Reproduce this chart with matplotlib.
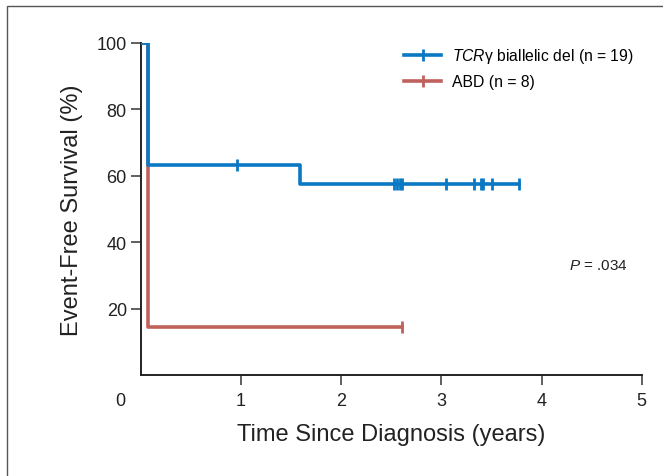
import numpy as np
import matplotlib
matplotlib.use('Agg')
import matplotlib.pyplot as plt
from matplotlib.lines import Line2D
from matplotlib.patches import Rectangle

plt.rcParams['font.family'] = ['Liberation Sans', 'DejaVu Sans']
plt.rcParams['mathtext.fontset'] = 'custom'
plt.rcParams['mathtext.it'] = 'Liberation Sans:italic'
plt.rcParams['mathtext.rm'] = 'Liberation Sans'

# Kaplan-Meier steps
tcr_t = [0, 0.07, 1.585, 3.78]
tcr_s = [100, 63.2, 57.4, 57.4]
tcr_cens = [0.96, 2.53, 2.56, 2.59, 2.61, 3.05, 3.33, 3.40, 3.42, 3.51, 3.78]

abd_t = [0, 0.07, 2.61]
abd_s = [100, 14.3, 14.3]
abd_cens = [2.61]

x_ticks = [1, 2, 3, 4, 5]
y_ticks = [20, 40, 60, 80, 100]

BLUE = '#0a78c2'
RED = '#bf625c'
INK = '#222222'


def surv_at(times, surv, pts):
    idx = np.searchsorted(times, pts, side='right') - 1
    return np.array(surv)[idx]


fig = plt.figure(figsize=(6.63, 4.77), dpi=100)
ax = fig.add_axes([0.2122, 0.2117, 0.7557, 0.6971])

ax.step(abd_t, abd_s, where='post', color=RED, lw=2.6, zorder=2)
ax.plot(abd_cens, surv_at(abd_t, abd_s, abd_cens), ls='none', marker='|',
        ms=8, mew=2.0, color=RED, zorder=2)
ax.step(tcr_t, tcr_s, where='post', color=BLUE, lw=2.6, zorder=3)
ax.plot(tcr_cens, surv_at(tcr_t, tcr_s, tcr_cens), ls='none', marker='|',
        ms=8, mew=2.0, color=BLUE, zorder=3)

ax.set_xlim(0, 5)
ax.set_ylim(0, 100)
ax.set_xticks(x_ticks)
ax.set_yticks(y_ticks)
ax.tick_params(axis='both', labelsize=13, length=7, width=1.2, color='#444444',
               labelcolor=INK)
ax.tick_params(axis='x', pad=5)
ax.tick_params(axis='y', pad=3)
for s in ['top', 'right']:
    ax.spines[s].set_visible(False)
for s in ['left', 'bottom']:
    ax.spines[s].set_linewidth(1.4)
    ax.spines[s].set_color(INK)

ax.annotate('0', xy=(-0.2, 0), xycoords=('data', 'axes fraction'),
            xytext=(0, -12), textcoords='offset points', ha='center', va='top',
            fontsize=13, color=INK, annotation_clip=False)

ax.set_xlabel('Time Since Diagnosis (years)', fontsize=17, labelpad=10, color=INK)
ax.set_ylabel('Event-Free Survival (%)', fontsize=17, labelpad=10, color=INK)

ax.text(4.27, 33, r'$\it{P}$ = .034', fontsize=11, ha='left', va='center', color=INK)

handles = [Line2D([], [], color=BLUE, lw=2.6, marker='|', ms=8, mew=2.0),
           Line2D([], [], color=RED, lw=2.6, marker='|', ms=8, mew=2.0)]
labels = [r'$\it{TCR}$γ biallelic del (n = 19)', 'ABD (n = 8)']
ax.legend(handles, labels, loc='upper left', bbox_to_anchor=(0.525, 0.988),
          frameon=False, fontsize=11.3, handlelength=2.4, handletextpad=0.7,
          borderaxespad=0, borderpad=0, labelspacing=0.55)

# outer frame of the panel
fig.add_artist(Rectangle((7 / 663, -0.1), 1.2, 1.1 - 7 / 477,
                         transform=fig.transFigure, fill=False,
                         edgecolor='#555555', lw=1.0))

fig.savefig('out.png', dpi=100)
